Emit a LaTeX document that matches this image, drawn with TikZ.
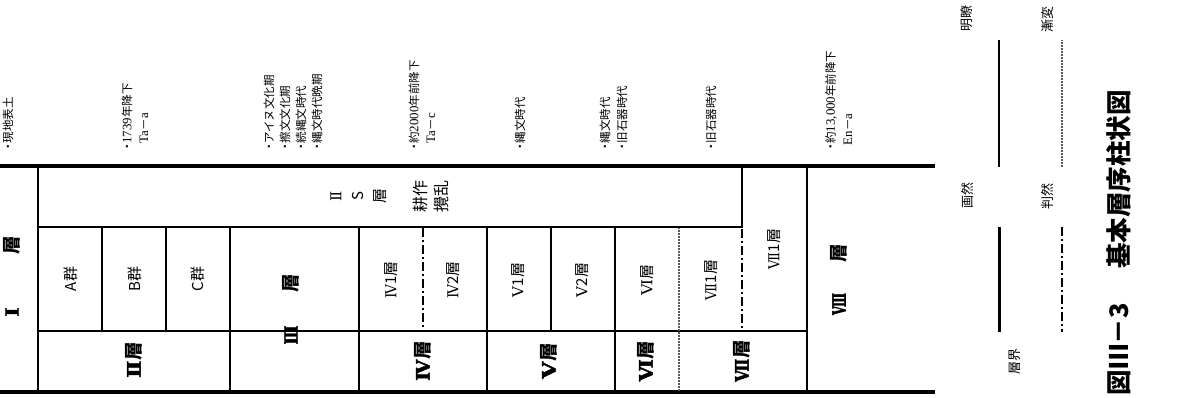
\documentclass[tikz,border=0pt]{standalone}
\usepackage{graphicx}
\usepackage{fontspec}
\setmainfont{Noto Sans CJK JP}
\newfontfamily\lat[Scale=1.12]{Liberation Serif}
\newfontfamily\rom{DejaVu Serif}
\newfontfamily\romb[FakeBold=2.5]{DejaVu Serif}
\newcommand{\bul}{・\hspace{-3pt}}
\newcommand{\R}[2]{\resizebox{#1}{\height}{\rom #2}}
\newcommand{\RB}[2]{\resizebox{#1}{\height}{\romb #2}}
\begin{document}
\begin{tikzpicture}[x=1pt,y=-1pt,
  every node/.style={inner sep=0pt, outer sep=0pt, rotate=90},
  ann/.style={anchor=west, font=\fontsize{11.5}{12}\selectfont},
  cell/.style={font=\fontsize{15}{15}\selectfont},
  layer/.style={font=\fontsize{18.5}{18.5}\selectfont\bfseries},
  legend/.style={font=\fontsize{13}{13}\selectfont},
  frameline/.style={line width=4pt},
  majorline/.style={line width=2.8pt},
  minorline/.style={line width=2.2pt},
  clearline/.style={line width=2.5pt, dash pattern=on 9pt off 3pt on 2pt off 3pt},
  gradline/.style={line width=1.2pt, black!65, dash pattern=on 0.8pt off 0.7pt},
  legsolid/.style={line width=2.2pt},
  legsolidb/.style={line width=3pt}
]
\useasboundingbox (0,0) rectangle (1179,397);

% ---------- frame ----------
\draw[frameline] (0,166) -- (935,166);
\draw[frameline] (0,392) -- (935,392);

% ---------- horizontal inner lines ----------
\draw[minorline] (38,227) -- (742,227);
\draw[minorline] (38,331) -- (807,331);

% ---------- vertical lines ----------
\draw[majorline] (38,166) -- (38,392);
\draw[minorline] (102,227) -- (102,331);
\draw[minorline] (166,227) -- (166,331);
\draw[majorline] (230,227) -- (230,392);
\draw[majorline] (359,227) -- (359,392);
\draw[clearline] (423,228) -- (423,331);
\draw[majorline] (487,227) -- (487,392);
\draw[minorline] (551,227) -- (551,331);
\draw[majorline] (615,227) -- (615,392);
\draw[gradline] (679,228) -- (679,391);
\draw[majorline] (742,166) -- (742,228);
\draw[clearline] (742,229) -- (742,331);
\draw[majorline] (807,166) -- (807,392);

% ---------- top annotations ----------
\node[ann] (a1) at (8,152) {\bul 現地表土};
\node[ann] (a2) at (127,152) {\bul{\lat 1739}年降下};
\node[ann] (a2b) at (144,143) {{\lat Ta}－{\lat a}};
\node[ann] (a3) at (269,152) {\bul アイヌ文化期};
\node[ann] (a4) at (285,152) {\bul 擦文文化期};
\node[ann] (a5) at (301,152) {\bul 続縄文時代};
\node[ann] (a6) at (317,152) {\bul 縄文時代晩期};
\node[ann] (a7) at (414,152) {\bul 約{\lat 2000}年前降下};
\node[ann] (a7b) at (431,143) {{\lat Ta}－{\lat c}};
\node[ann] (a8) at (520,152) {\bul 縄文時代};
\node[ann] (a9) at (605,152) {\bul 縄文時代};
\node[ann] (a10) at (622,152) {\bul 旧石器時代};
\node[ann] (a11) at (711,152) {\bul 旧石器時代};
\node[ann] (a12) at (831,152) {\bul 約{\lat 13,000}年前降下};
\node[ann] (a12b) at (848,145) {{\lat En}－{\lat a}};

% ---------- cell labels ----------
\node[layer] (L1a) at (12,312) {\RB{9pt}{Ⅰ}};
\node[layer] (L1b) at (12,245) {層};
\node[cell] (IIS1) at (336,196) {\rom Ⅱ};
\node[cell] (IIS2) at (358,196) {S};
\node[cell] (IIS3) at (380,196) {層};
\node[font=\fontsize{16}{16}\selectfont] (kou) at (420,196) {耕作};
\node[font=\fontsize{16}{16}\selectfont] (kaku) at (441,196) {攪乱};
\node[cell] (gA) at (71,279) {A群};
\node[cell] (gB) at (135,279) {B群};
\node[cell] (gC) at (198,279) {C群};
\node[layer] (L2) at (134,360) {\RB{17pt}{Ⅱ}層};
\node[layer] (L3a) at (291,335) {\RB{19pt}{Ⅲ}};
\node[layer] (L3b) at (291,283) {層};
\node[cell] (c41) at (391,280) {\R{14pt}{Ⅳ}1層};
\node[cell] (c42) at (453,280) {\R{14pt}{Ⅳ}2層};
\node[cell] (c51) at (518,280) {{\rom Ⅴ}1層};
\node[cell] (c52) at (582,280) {{\rom Ⅴ}2層};
\node[cell] (c6) at (647,280) {\R{16pt}{Ⅵ}層};
\node[cell] (c71) at (711,280) {\R{17pt}{Ⅶ}1層};
\node[cell] (c71r) at (774,249) {\R{17pt}{Ⅶ}1層};
\node[layer] (L8a) at (839,304) {\RB{22pt}{Ⅷ}};
\node[layer] (L8b) at (839,253) {層};
\node[layer] (L4) at (423,361) {\RB{21pt}{Ⅳ}層};
\node[layer] (L5) at (549,361) {\RB{17pt}{Ⅴ}層};
\node[layer] (L6) at (646,361) {\RB{22pt}{Ⅵ}層};
\node[layer] (L7) at (742,361) {\RB{23pt}{Ⅶ}層};

% ---------- legend ----------
\node[legend] (meiryo) at (967,18) {明瞭};
\node[legend] (zenpen) at (1048,19) {漸変};
\node[legend] (kakuzen) at (968,195) {画然};
\node[legend] (hanzen) at (1048,196) {判然};
\node[legend] (souk) at (1015,361) {層界};
\coordinate (m1) at (999,40);  \coordinate (m2) at (999,167);
\coordinate (z1) at (1062,40); \coordinate (z2) at (1062,167);
\coordinate (k1) at (999,227); \coordinate (k2) at (999,332);
\coordinate (h1) at (1062,227);\coordinate (h2) at (1062,332);
\draw[legsolid] (m1) -- (m2);
\draw[gradline] (z1) -- (z2);
\draw[legsolidb] (k1) -- (k2);
\draw[clearline] (h1) -- (h2);

% ---------- title ----------
\node[anchor=west, font=\fontsize{25.5}{26}\selectfont\bfseries] (title) at (1119,395)
  {図Ⅲ－3\hspace{34pt}基本層序柱状図};
\end{tikzpicture}
\end{document}
